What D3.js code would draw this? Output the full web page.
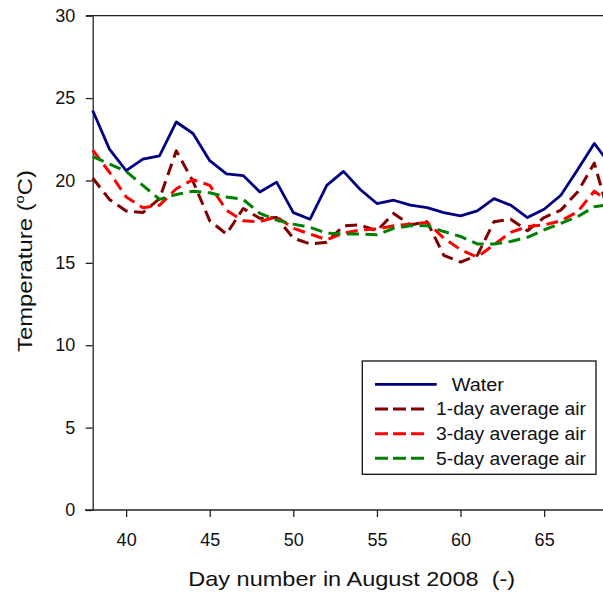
<!DOCTYPE html>
<html>
<head>
<meta charset="utf-8">
<script src="https://cdn.jsdelivr.net/npm/d3@7/dist/d3.min.js"></script>
<style>
  html, body { margin: 0; padding: 0; background: #fff; }
  svg { display: block; font-family: "Liberation Sans", Arial, sans-serif; }
</style>
</head>
<body>
<svg id="chart" width="603" height="597"></svg>
<script>
// Daily temperatures, days 38–69 (day number counted from August 2008)
const days = [38, 39, 40, 41, 42, 43, 44, 45, 46, 47, 48, 49, 50, 51, 52, 53,
              54, 55, 56, 57, 58, 59, 60, 61, 62, 63, 64, 65, 66, 67, 68, 69];

const water = [24.25, 21.9, 20.6, 21.3, 21.5, 23.55, 22.85, 21.2, 20.4, 20.3, 19.3, 19.9,
               18.05, 17.65, 19.7, 20.55, 19.45, 18.6, 18.8, 18.5, 18.35, 18.05,
               17.85, 18.15, 18.9, 18.5, 17.75, 18.25, 19.1, 20.65, 22.25, 20.9];

const air1 = [20.15, 18.85, 18.15, 18.05, 18.9, 21.8, 19.95, 17.55, 16.75, 18.3, 17.7, 17.75,
              16.5, 16.15, 16.25, 17.25, 17.3, 16.95, 18.0, 17.3, 17.5, 15.45,
              15.05, 15.45, 17.5, 17.65, 16.95, 17.75, 18.2, 19.3, 21.05, 17.5];

const air3 = [21.85, 20.5, 19.0, 18.35, 18.5, 19.5, 20.05, 19.7, 18.2, 17.55, 17.5, 17.8,
              17.1, 16.75, 16.4, 16.8, 17.0, 17.05, 17.25, 17.35, 17.45, 16.5,
              15.8, 15.35, 16.1, 16.85, 17.2, 17.3, 17.55, 18.1, 19.35, 18.6];

const air5 = [21.45, 21.0, 20.55, 19.7, 18.85, 19.15, 19.35, 19.25, 19.0, 18.85, 18.0, 17.6,
              17.35, 17.15, 16.8, 16.75, 16.75, 16.7, 17.1, 17.25, 17.25, 16.9,
              16.6, 16.15, 16.15, 16.3, 16.55, 17.0, 17.4, 17.8, 18.4, 18.55];

const seriesNames = ["Water", "1-day average air", "3-day average air", "5-day average air"];
const seriesValues = [water, air1, air3, air5];

const xTicks = [40, 45, 50, 55, 60, 65];
const yTicks = [0, 5, 10, 15, 20, 25, 30];

const colors = ["#000080", "#800000", "#ff0000", "#008000"];
const dashes = [null, "12,6.5", "12,6.5", "12,6.5"];
const widths = [2.8, 3, 3, 3];

const svg = d3.select("#chart");

const plotLeft = 92.7, plotTop = 15.7, plotBottom = 510;
const x = d3.scaleLinear().domain([38, 70]).range([plotLeft, plotLeft + 32 * 16.72]);
const y = d3.scaleLinear().domain([0, 30]).range([plotBottom, plotTop]);

// frame line along the top of the plot area
svg.append("line")
  .attr("x1", 86).attr("x2", 603)
  .attr("y1", y(30)).attr("y2", y(30))
  .attr("stroke", "#222").attr("stroke-width", 1.3);

// x axis
const xAxis = svg.append("g")
  .attr("transform", `translate(0,${plotBottom})`)
  .call(d3.axisBottom(x).tickValues(xTicks).tickSize(7).tickPadding(16).tickSizeOuter(0));
xAxis.select(".domain").remove();
xAxis.append("line")
  .attr("x1", 85).attr("x2", 603).attr("y1", 0).attr("y2", 0)
  .attr("stroke", "#222").attr("stroke-width", 1.3);
xAxis.selectAll(".tick line").attr("stroke", "#222").attr("stroke-width", 1.3);
xAxis.selectAll(".tick text")
  .attr("fill", "#111").style("font-size", "18px")
  .style("font-family", '"Liberation Sans", Arial, sans-serif');

// y axis
const yAxis = svg.append("g")
  .attr("transform", `translate(${plotLeft},0)`)
  .call(d3.axisLeft(y).tickValues(yTicks).tickSize(7).tickPadding(10.5).tickSizeOuter(0));
yAxis.select(".domain").attr("stroke", "#222").attr("stroke-width", 1.3);
yAxis.selectAll(".tick line").attr("stroke", "#222").attr("stroke-width", 1.3);
yAxis.selectAll(".tick text")
  .attr("fill", "#111").style("font-size", "18px")
  .style("font-family", '"Liberation Sans", Arial, sans-serif');

// data lines
const line = d3.line()
  .x((d, i) => x(days[i]))
  .y(d => y(d));

const plot = svg.append("g");
seriesValues.forEach((vals, k) => {
  plot.append("path")
    .datum(vals)
    .attr("d", line)
    .attr("fill", "none")
    .attr("stroke", colors[k])
    .attr("stroke-width", widths[k])
    .attr("stroke-linejoin", "round")
    .attr("stroke-dasharray", dashes[k]);
});

// axis titles
svg.append("text")
  .attr("x", 351.7).attr("y", 586)
  .attr("text-anchor", "middle")
  .attr("textLength", 327).attr("lengthAdjust", "spacingAndGlyphs")
  .style("font-size", "21px").style("white-space", "pre").attr("fill", "#111")
  .text("Day number in August 2008  (-)");

const yTitle = svg.append("text")
  .attr("transform", "translate(31.5,261) rotate(-90)")
  .attr("text-anchor", "middle")
  .attr("textLength", 182).attr("lengthAdjust", "spacingAndGlyphs")
  .style("font-size", "21px").attr("fill", "#111");
yTitle.append("tspan").text("Temperature (");
yTitle.append("tspan").attr("dy", -8).style("font-size", "13px").text("o");
yTitle.append("tspan").attr("dy", 8).text("C)");

// legend
const legend = svg.append("g");
legend.append("rect")
  .attr("x", 362.3).attr("y", 361).attr("width", 233.7).attr("height", 113.3)
  .attr("fill", "#fff").attr("stroke", "#111").attr("stroke-width", 1.3);

const legendText = [
  { x: 451.7, len: 52.3, lineEnd: 436.7 },
  { x: 436, len: 150, lineEnd: 428 },
  { x: 436, len: 150, lineEnd: 428 },
  { x: 436, len: 150, lineEnd: 428 }
];

seriesNames.forEach((name, k) => {
  const ly = 384.4 + k * 24.65;
  legend.append("line")
    .attr("x1", 375).attr("x2", legendText[k].lineEnd)
    .attr("y1", ly).attr("y2", ly)
    .attr("stroke", colors[k])
    .attr("stroke-width", widths[k])
    .attr("stroke-dasharray", dashes[k] ? "13,5" : null);
  legend.append("text")
    .attr("x", legendText[k].x).attr("y", ly + 6.4)
    .attr("textLength", legendText[k].len).attr("lengthAdjust", "spacingAndGlyphs")
    .style("font-size", "17.5px").attr("fill", "#111")
    .text(name);
});
</script>
</body>
</html>
